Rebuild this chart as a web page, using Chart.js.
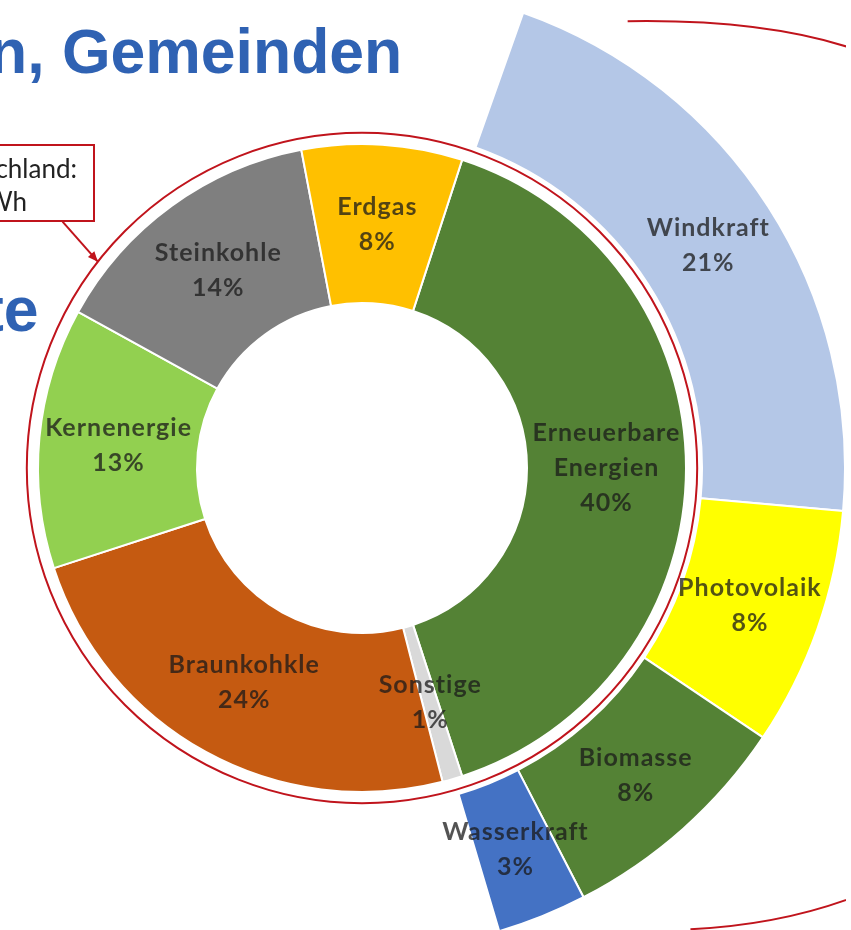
<!DOCTYPE html>
<html>
<head>
<meta charset="utf-8">
<script src="https://cdn.jsdelivr.net/npm/chart.js@4.4.1/dist/chart.umd.min.js"></script>
<style>
  html, body { margin: 0; padding: 0; background: #ffffff; }
  body { width: 851px; height: 930px; overflow: hidden; position: relative; }
  #wrap { position: absolute; left: -122px; top: -16px; width: 968px; height: 968px; }
  .title { position: absolute; font-family: "Liberation Sans", Arial, sans-serif; font-weight: bold;
           font-size: 62.5px; color: #2f62b3; white-space: nowrap; line-height: 1; z-index: 2; }
  #callout { position: absolute; left: -60px; top: 144px; width: 155px; height: 78px;
             border: 2px solid #c0141c; background: #fff; z-index: 2; box-sizing: border-box; }
  #callout div { position: absolute; font-family: Lato, "Open Sans", sans-serif;
                 font-size: 26px; color: #222; white-space: nowrap; line-height: 1; }
</style>
</head>
<body>
<div class="title" style="left:-11px; top:20px;">n, Gemeinden</div>
<div class="title" style="left:-17px; top:278px;">te</div>
<div id="callout"><div style="top:9px; right:16px;">Deutschland:</div><div style="top:42px; right:66px;">TWh</div></div>
<div id="wrap"><canvas id="c" width="968" height="968"></canvas></div>
<script>
// ---- data ----
const mixLabels = [['Erneuerbare', 'Energien'], ['Sonstige'], ['Braunkohkle'], ['Kernenergie'], ['Steinkohle'], ['Erdgas']];
const mixValues = [40, 1, 24, 13, 14, 8];
const renewLabels = [['Windkraft'], ['Photovolaik'], ['Biomasse'], ['Wasserkraft']];
const renewValues = [21, 8, 8, 3];

// ---- styles ----
const mixColors = ['#548235', '#d9d9d9', '#c55a11', '#92d050', '#7f7f7f', '#ffc000'];
const renewColors = ['#b4c7e7', '#ffff00', '#548235', '#4472c4'];

const sum = a => a.reduce((s, v) => s + v, 0);
const renewSweep = 360 * sum(renewValues) / sum(mixValues);

// slide annotations: red ring, bracket outline, callout arrow
const annotPlugin = {
  id: 'annot',
  afterDatasetsDraw(chart) {
    const ctx = chart.ctx;
    const spacer = chart.getDatasetMeta(1).controller;
    const arc0 = chart.getDatasetMeta(1).data[0];
    const cx = arc0.x, cy = arc0.y;
    const rr = spacer.innerRadius + (spacer.outerRadius - spacer.innerRadius) * 0.7;
    ctx.save();
    ctx.strokeStyle = '#c0141c';
    ctx.lineWidth = 2;
    ctx.beginPath();
    ctx.arc(cx, cy, rr, 0, Math.PI * 2);
    ctx.stroke();
    const R = chart.getDatasetMeta(0).controller.outerRadius;
    ctx.beginPath();
    ctx.moveTo(cx + R * 0.55, cy - R * 0.925);
    ctx.quadraticCurveTo(cx + R * 0.85, cy - R * 0.93, cx + R * 1.04, cy - R * 0.86);
    ctx.stroke();
    ctx.beginPath();
    ctx.moveTo(cx + R * 0.68, cy + R * 0.955);
    ctx.quadraticCurveTo(cx + R * 0.88, cy + R * 0.945, cx + R * 1.04, cy + R * 0.88);
    ctx.stroke();
    const ax0 = cx - R * 0.62, ay0 = cy - R * 0.51;
    const ang = 308 * Math.PI / 180;
    const tx = cx + rr * Math.sin(ang), ty = cy - rr * Math.cos(ang);
    ctx.beginPath();
    ctx.moveTo(ax0, ay0);
    ctx.lineTo(tx, ty);
    ctx.stroke();
    const dir = Math.atan2(ty - ay0, tx - ax0);
    ctx.fillStyle = '#c0141c';
    ctx.beginPath();
    ctx.moveTo(tx, ty);
    ctx.lineTo(tx - 11 * Math.cos(dir - 0.4), ty - 11 * Math.sin(dir - 0.4));
    ctx.lineTo(tx - 11 * Math.cos(dir + 0.4), ty - 11 * Math.sin(dir + 0.4));
    ctx.closePath();
    ctx.fill();
    ctx.restore();
  }
};

const labelPlugin = {
  id: 'sliceLabels',
  afterDraw(chart) {
    const ctx = chart.ctx;
    ctx.save();
    ctx.font = 'bold 25px Lato, "Open Sans", sans-serif';
    ctx.textAlign = 'center';
    ctx.textBaseline = 'middle';
    ctx.fillStyle = 'rgba(25,25,25,0.75)';
    try { ctx.letterSpacing = '1px'; } catch (e) {}
    chart.data.datasets.forEach((ds, di) => {
      if (!ds.sliceLabels) return;
      const meta = chart.getDatasetMeta(di);
      meta.data.forEach((arc, i) => {
        const p = arc.tooltipPosition();
        const lines = ds.sliceLabels[i].concat([ds.data[i] + '%']);
        const lh = 35;
        const y0 = p.y - (lines.length - 1) * lh / 2;
        lines.forEach((t, k) => ctx.fillText(t, p.x, y0 + k * lh));
      });
    });
    ctx.restore();
  }
};

new Chart(document.getElementById('c'), {
  type: 'doughnut',
  data: {
    datasets: [
      {
        data: renewValues,
        sliceLabels: renewLabels,
        backgroundColor: renewColors,
        borderColor: '#ffffff',
        borderWidth: 2,
        weight: 143,
        rotation: 19.5,
        circumference: renewSweep
      },
      {
        data: [1],
        backgroundColor: ['rgba(0,0,0,0)'],
        borderWidth: 0,
        weight: 16
      },
      {
        data: mixValues,
        sliceLabels: mixLabels,
        backgroundColor: mixColors,
        borderColor: '#ffffff',
        borderWidth: 2,
        weight: 159,
        rotation: 18
      }
    ]
  },
  options: {
    responsive: false,
    animation: false,
    events: [],
    cutout: 165,
    layout: { padding: 0 },
    plugins: { legend: { display: false }, tooltip: { enabled: false }, title: { display: false } }
  },
  plugins: [annotPlugin, labelPlugin]
});
</script>
</body>
</html>
